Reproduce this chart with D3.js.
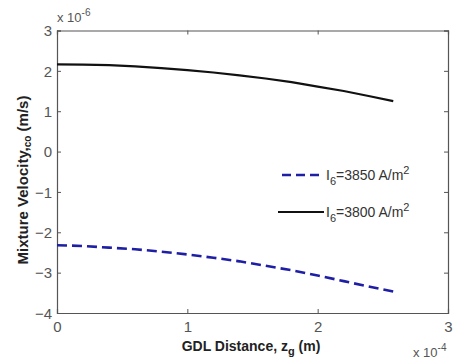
<!DOCTYPE html>
<html>
<head>
<meta charset="utf-8">
<script src="https://cdn.jsdelivr.net/npm/d3@7"></script>
<style>
  body { margin: 0; background: #fff; }
  svg { display: block; font-family: Arial, "Liberation Sans", sans-serif; }
</style>
</head>
<body>
<svg id="chart"></svg>
<script>
const width = 453;
const height = 364;

// data (x in 1e-4 m, y in 1e-6 m/s)
const zg = [0, 0.2, 0.4, 0.6, 0.8, 1.0, 1.2, 1.4, 1.6, 1.8, 2.0, 2.2, 2.4, 2.58];
const v3850 = [-2.32, -2.34, -2.38, -2.42, -2.48, -2.55, -2.63, -2.72, -2.83, -2.94, -3.07, -3.21, -3.35, -3.47];
const v3800 = [2.16, 2.155, 2.14, 2.11, 2.07, 2.02, 1.96, 1.89, 1.81, 1.72, 1.61, 1.50, 1.37, 1.25];
const xTicks = [0, 1, 2, 3];
const yTicks = [-4, -3, -2, -1, 0, 1, 2, 3];
const legendNames = ['3850', '3800'];

const margin = { left: 57, right: 5, top: 30.5, bottom: 51 };
const svg = d3.select('#chart').attr('width', width).attr('height', height);

const x = d3.scaleLinear().domain([0, 3]).range([margin.left, width - margin.right]);
const y = d3.scaleLinear().domain([-4, 3]).range([height - margin.bottom, margin.top]);

const axisColor = '#555';
const tickLen = 4;

// 坐標軸 (ticks pointing inward, MATLAB style)
const gx = svg.append('g').attr('transform', `translate(0,${y(-4)})`)
  .call(d3.axisBottom(x).tickValues(xTicks).tickSize(-tickLen).tickPadding(8).tickFormat(d3.format('d')));
const gxTop = svg.append('g').attr('transform', `translate(0,${y(3)})`)
  .call(d3.axisTop(x).tickValues(xTicks).tickSize(-tickLen).tickFormat(''));
const gy = svg.append('g').attr('transform', `translate(${x(0)},0)`)
  .call(d3.axisLeft(y).tickValues(yTicks).tickSize(-tickLen).tickPadding(5).tickFormat(d3.format('d')));
const gyRight = svg.append('g').attr('transform', `translate(${x(3)},0)`)
  .call(d3.axisRight(y).tickValues(yTicks).tickSize(-tickLen).tickFormat(''));

[gx, gxTop, gy, gyRight].forEach(g => {
  g.select('.domain').attr('stroke', axisColor).attr('stroke-width', 1.2);
  g.selectAll('.tick line').attr('stroke', axisColor);
  g.selectAll('.tick text').attr('fill', '#555').style('font-size', '15px');
});
gy.selectAll('.tick text').attr('dy', '0.35em');

// lines
const line = d3.line().x((d, i) => x(zg[i])).y(d => y(d));

svg.append('path').datum(v3850)
  .attr('fill', 'none').attr('stroke', '#1f1fa6').attr('stroke-width', 2.6)
  .attr('stroke-dasharray', '10,5').attr('d', line);

svg.append('path').datum(v3800)
  .attr('fill', 'none').attr('stroke', '#111').attr('stroke-width', 2.2).attr('d', line);

// legend
const legend = svg.append('g').style('font-size', '14px').attr('fill', '#333');
legendNames.forEach((name, i) => {
  const ly = 175 + i * 37;
  legend.append('line')
    .attr('x1', i === 0 ? 282 : 278).attr('x2', 324).attr('y1', ly).attr('y2', ly)
    .attr('stroke', i === 0 ? '#1f1fa6' : '#111').attr('stroke-width', i === 0 ? 2.4 : 2.2)
    .attr('stroke-dasharray', i === 0 ? '9,5' : null);
  const t = legend.append('text').attr('x', 326).attr('y', ly + 5);
  t.append('tspan').text('I');
  t.append('tspan').attr('dy', 5).style('font-size', '11px').text('6');
  t.append('tspan').attr('dy', -5).text('=' + name + ' A/m');
  t.append('tspan').attr('dy', -6).style('font-size', '11px').text('2');
});

// exponents
const e6 = svg.append('text').attr('x', 57).attr('y', 22).attr('fill', '#555').style('font-size', '13px');
e6.append('tspan').text('x 10');
e6.append('tspan').attr('dy', -6).style('font-size', '10px').text('-6');

const e4 = svg.append('text').attr('x', 413).attr('y', 357).attr('fill', '#555').style('font-size', '13px');
e4.append('tspan').text('x 10');
e4.append('tspan').attr('dy', -6).style('font-size', '10px').text('-4');

// axis titles
const xl = svg.append('text').attr('x', 251).attr('y', 351).attr('text-anchor', 'middle')
  .attr('fill', '#222').style('font-size', '14px').style('font-weight', 'bold');
xl.append('tspan').text('GDL Distance, z');
xl.append('tspan').attr('dy', 4).style('font-size', '11px').text('g');
xl.append('tspan').attr('dy', -4).text(' (m)');

const yl = svg.append('text').attr('transform', 'translate(28,180) rotate(-90)')
  .attr('text-anchor', 'middle').attr('fill', '#222').style('font-size', '15px').style('font-weight', 'bold');
yl.append('tspan').text('Mixture Velocity,');
yl.append('tspan').attr('dy', 3).style('font-size', '10px').text('co');
yl.append('tspan').attr('dy', -3).text(' (m/s)');
</script>
</body>
</html>
